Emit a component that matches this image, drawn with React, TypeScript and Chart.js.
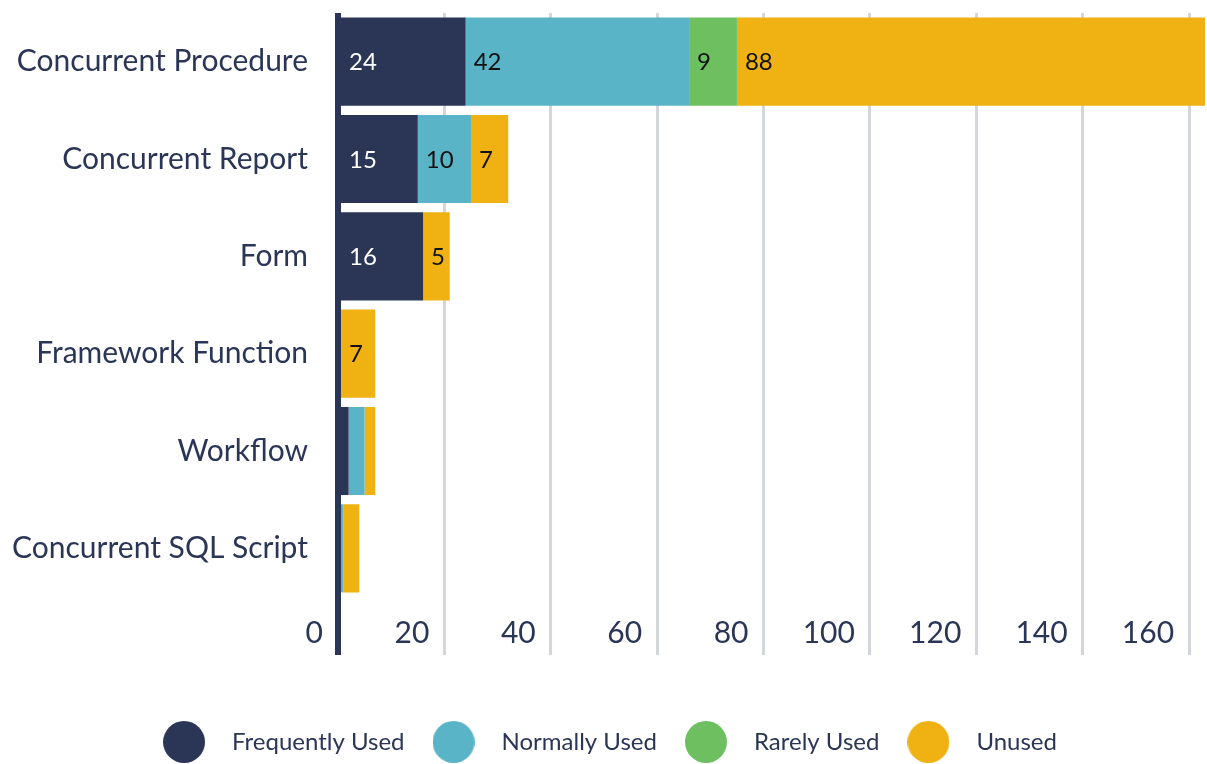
import { useEffect, useRef } from "react";
import { Chart, registerables } from "chart.js";

Chart.register(...registerables);

const FONT = "Lato";
const NAVY = "#2b3656";

const categories = [
  "Concurrent Procedure",
  "Concurrent Report",
  "Form",
  "Framework Function",
  "Workflow",
  "Concurrent SQL Script",
];
const seriesNames = ["Frequently Used", "Normally Used", "Rarely Used", "Unused"];
const frequentlyUsed = [24, 15, 16, 0, 2, 0];
const normallyUsed = [42, 10, 0, 0, 3, 1];
const rarelyUsed = [9, 0, 0, 0, 0, 0];
const unused = [88, 7, 5, 7, 2, 3];
const xTicks = [0, 20, 40, 60, 80, 100, 120, 140, 160];
const xMax = 163;

const seriesColors = ["#2b3656", "#5ab4c7", "#6dbf5f", "#f0b213"];
const labelColors = ["#ffffff", "#111111", "#111111", "#111111"];

function makeCircle(color: string, d: number) {
  const c = document.createElement("canvas");
  c.width = d;
  c.height = d;
  const g = c.getContext("2d")!;
  g.fillStyle = color;
  g.beginPath();
  g.arc(d / 2, d / 2, d / 2, 0, Math.PI * 2);
  g.fill();
  return c;
}

const segLabels = {
  id: "segLabels",
  afterDatasetsDraw(chart: any) {
    const ctx = chart.ctx;
    ctx.save();
    ctx.font = `24px ${FONT}`;
    ctx.textBaseline = "middle";
    ctx.textAlign = "left";
    chart.data.datasets.forEach((ds: any, di: number) => {
      const meta = chart.getDatasetMeta(di);
      meta.data.forEach((el: any, i: number) => {
        const v = ds.data[i];
        if (v < 5) return;
        const left = Math.min(el.x, el.base);
        ctx.fillStyle = labelColors[di];
        ctx.fillText(String(v), left + 8, el.y + 1);
      });
    });
    ctx.restore();
  },
};

export default function App() {
  const ref = useRef<HTMLCanvasElement>(null);
  useEffect(() => {
    document.body.style.margin = "0";
    const circles = seriesColors.map((c) => makeCircle(c, 42));
    const seriesData = [frequentlyUsed, normallyUsed, rarelyUsed, unused];
    const chart = new Chart(ref.current!, {
      type: "bar",
      data: {
        labels: categories,
        datasets: seriesNames.map((name, i) => ({
          label: name,
          data: seriesData[i],
          backgroundColor: seriesColors[i],
          borderWidth: 0,
          categoryPercentage: 1,
          barPercentage: 0.905,
        })),
      },
      options: {
        indexAxis: "y",
        animation: false,
        responsive: false,
        maintainAspectRatio: false,
        layout: { padding: { top: 13, right: 2, left: 0, bottom: 0 } },
        scales: {
          x: {
            stacked: true,
            min: 0,
            max: xMax,
            afterBuildTicks: (s: any) => {
              s.ticks = xTicks.map((v) => ({ value: v }));
            },
            afterFit: (s: any) => {
              s.height = 120;
              s.paddingLeft = 0;
              s.paddingRight = 0;
            },
            border: { display: false },
            grid: {
              color: (c: any) => (c.tick && c.tick.value === 0 ? NAVY : "#d4d6de"),
              lineWidth: (c: any) => (c.tick && c.tick.value === 0 ? 6 : 3),
              drawTicks: true,
              tickLength: 58,
              tickColor: (c: any) => (c.tick && c.tick.value === 0 ? NAVY : "#d4d6de"),
              tickWidth: (c: any) => (c.tick && c.tick.value === 0 ? 6 : 3),
            },
            ticks: {
              align: "end",
              labelOffset: -15,
              padding: -40,
              color: NAVY,
              font: { family: FONT, size: 30 },
              maxRotation: 0,
              autoSkip: false,
            },
          },
          y: {
            stacked: true,
            afterFit: (s: any) => {
              s.width = 338;
              s.paddingTop = 0;
              s.paddingBottom = 0;
            },
            border: { display: false },
            grid: { display: false, drawTicks: false },
            ticks: {
              padding: 30,
              color: NAVY,
              font: { family: FONT, size: 30 },
              autoSkip: false,
            },
          },
        },
        plugins: {
          tooltip: { enabled: false },
          legend: {
            display: true,
            position: "bottom",
            labels: {
              usePointStyle: true,
              pointStyleWidth: 72,
              padding: 13,
              color: NAVY,
              font: { family: FONT, size: 24 },
              generateLabels: (ch: any) => {
                const items = Chart.defaults.plugins.legend.labels.generateLabels(ch);
                return items.map((it: any, i: number) => ({
                  ...it,
                  pointStyle: circles[i],
                  fontColor: NAVY,
                }));
              },
            },
          },
        },
      },
      plugins: [segLabels],
    } as any);
    return () => chart.destroy();
  }, []);
  return (
    <div style={{ position: "absolute", left: 0, top: 0, width: 1207, height: 764 }}>
      <canvas ref={ref} width={1207} height={764} style={{ width: 1207, height: 764 }} />
    </div>
  );
}
